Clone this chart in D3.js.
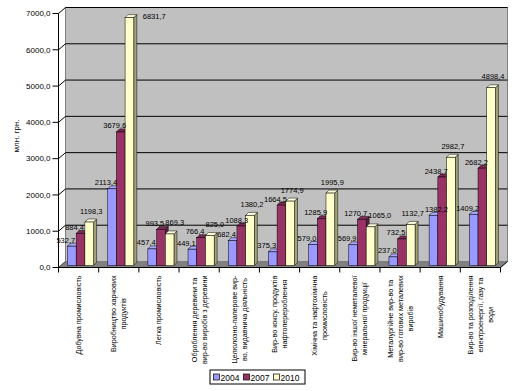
<!DOCTYPE html>
<html><head><meta charset="utf-8">
<script src="https://cdn.jsdelivr.net/npm/d3@7"></script>
<style>
body{margin:0;background:#fff}
svg{display:block}
text{font-family:"Liberation Sans",Arial,sans-serif;fill:#000}
</style>
</head><body>
<svg id="c" width="525" height="391"></svg>
<script>
const categories = [
  "Добувна промисловість",
  "Виробництво харчових\nпродуктів",
  "Легка промисловість",
  "Оброблення деревини та\nвир-во виробів з деревини",
  "Целюлозно-паперове вир-\nво, видавнича діяльність",
  "Вир-во коксу, продуктів\nнафтоперероблення",
  "Хімічна та нафтохімічна\nпромисловість",
  "Вир-во іншої неметалевої\nмінеральної продукції",
  "Металургійне вир-во та\nвир-во готових металевих\nвиробів",
  "Машинобудування",
  "Вир-во та розподілення\nелектроенергії, газу та\nводи"
];
const seriesNames = ["2004", "2007", "2010"];
const values2004 = [532.7, 2113.4, 457.4, 449.1, 682.4, 375.3, 579.0, 569.9, 237.0, 1382.2, 1409.2];
const values2007 = [884.4, 3679.6, 993.5, 766.4, 1088.3, 1664.5, 1285.9, 1270.7, 732.5, 2438.7, 2682.2];
const values2010 = [1198.3, 6831.7, 869.3, 825.0, 1380.2, 1774.9, 1995.9, 1065.0, 1132.7, 2982.7, 4898.4];
const yTickValues = [0, 1000, 2000, 3000, 4000, 5000, 6000, 7000];
const yTitle = "млн. грн.";

const seriesValues = [values2004, values2007, values2010];
const frontColors = ["#9999FF", "#993366", "#FFFFCC"];
const topColors = ["#A8A8FF", "#7F2A55", "#FFFFDD"];
const sideColors = ["#6E6EC0", "#5E1F3F", "#A3A37A"];
const labelShiftX = [-6, -6, 2];
const labelShiftY = [-3.5, -3.5, -8.5];

const fmt = v => d3.format(".1f")(v).replace(".", ",");
const svg = d3.select("#c");

const X0 = 58.5, X1 = 500.5, DX = 7, DY = 6, BD = 3, BY = 2;
const y = d3.scaleLinear().domain([0, 7000]).range([267.5, 13.5]);
const x = d3.scaleBand().domain(d3.range(categories.length)).range([X0, X1]);
const xs = d3.scaleBand().domain(seriesNames).range([9, 35.1]);
const y0 = y(0), yTop = y(7000);

// back wall
svg.append("rect").attr("x", X0 + DX).attr("y", yTop - DY)
  .attr("width", X1 - X0).attr("height", y0 - yTop)
  .attr("fill", "#C0C0C0").attr("stroke", "#808080").attr("stroke-width", 1);

// floor
svg.append("polygon")
  .attr("points", [[X0, y0], [X1, y0], [X1 + DX, y0 - DY], [X0 + DX, y0 - DY]].map(p => p.join(",")).join(" "))
  .attr("fill", "#808080").attr("stroke", "#808080").attr("stroke-width", 0.5);

// gridlines on wall + side diagonals
const grid = svg.append("g");
yTickValues.forEach(t => {
  if (t > 0) {
    grid.append("line").attr("x1", X0 + DX).attr("x2", X1 + DX)
      .attr("y1", y(t) - DY).attr("y2", y(t) - DY).attr("stroke", "#000").attr("stroke-width", 1);
  }
  grid.append("line").attr("x1", X0).attr("y1", y(t)).attr("x2", X0 + DX).attr("y2", y(t) - DY)
    .attr("stroke", t > 0 ? "#000" : "#404040").attr("stroke-width", 1);
});
svg.append("line").attr("x1", X1).attr("y1", y0).attr("x2", X1 + DX).attr("y2", y0 - DY)
  .attr("stroke", "#000").attr("stroke-width", 1);

// bars
const bars = svg.append("g");
const pts = a => a.map(p => p.join(",")).join(" ");
categories.forEach((c, i) => {
  seriesNames.forEach((s, k) => {
    const v = seriesValues[k][i];
    const xf = x(i) + xs(s), w = xs.bandwidth();
    const top = y(v) - BY, bot = y0 - BY;
    bars.append("polygon")
      .attr("points", pts([[xf + w, top], [xf + w + BD, top - BD], [xf + w + BD, bot - BD], [xf + w, bot]]))
      .attr("fill", sideColors[k]).attr("stroke", "#000").attr("stroke-width", 0.5);
    bars.append("polygon")
      .attr("points", pts([[xf, top], [xf + w, top], [xf + w + BD, top - BD], [xf + BD, top - BD]]))
      .attr("fill", topColors[k]).attr("stroke", "#000").attr("stroke-width", 0.5);
    bars.append("rect").attr("x", xf).attr("y", top).attr("width", w).attr("height", bot - top)
      .attr("fill", frontColors[k]).attr("stroke", "#000").attr("stroke-width", 0.5);
  });
});

// y axis
const ax = svg.append("g");
ax.append("line").attr("x1", X0).attr("x2", X0).attr("y1", yTop).attr("y2", y0).attr("stroke", "#000");
yTickValues.forEach(t => {
  ax.append("line").attr("x1", X0 - 6).attr("x2", X0).attr("y1", y(t)).attr("y2", y(t)).attr("stroke", "#000");
  ax.append("text").attr("x", X0 - 8).attr("y", y(t)).attr("dy", "0.35em")
    .attr("text-anchor", "end").attr("font-size", "8px").text(fmt(t));
});
svg.append("text").attr("transform", "translate(19,136) rotate(-90)")
  .attr("text-anchor", "middle").attr("font-size", "8px").text(yTitle);

// x axis
ax.append("line").attr("x1", X0).attr("x2", X1).attr("y1", y0).attr("y2", y0).attr("stroke", "#000");
d3.range(categories.length + 1).forEach(i => {
  const xx = i < categories.length ? x(i) : X1;
  ax.append("line").attr("x1", xx).attr("x2", xx).attr("y1", y0).attr("y2", y0 + 5).attr("stroke", "#000");
});

// category labels
const LINE = 10, LTOP = 275.5;
categories.forEach((c, i) => {
  const lines = c.split("\n");
  const cx = x(i) + x.bandwidth() / 2;
  const g = svg.append("g");
  const ts = lines.map(l => g.append("text").attr("font-size", "7.2px").attr("text-anchor", "middle").text(l));
  const maxL = d3.max(ts, t => t.node().getComputedTextLength());
  ts.forEach((t, j) => {
    const lx = cx + (j - (lines.length - 1) / 2) * LINE;
    t.attr("transform", `translate(${lx + 2.5},${LTOP + maxL / 2}) rotate(-90)`);
  });
});

// value labels with simple collision avoidance (shift right)
const lab = svg.append("g");
const placed = [];
const hit = (a, b) => a.x < b.x + b.width && b.x < a.x + a.width && a.y < b.y + b.height && b.y < a.y + a.height;
categories.forEach((c, i) => {
  seriesNames.forEach((s, k) => {
    const v = seriesValues[k][i];
    const xf = x(i) + xs(s), w = xs.bandwidth();
    const top = y(v) - BY;
    let tx = xf + w / 2 + labelShiftX[k], ty = top + labelShiftY[k], anchor = "middle";
    if (ty - 7 < yTop - DY) { tx = xf + w + 9; ty = top + 1; anchor = "start"; }
    const t = lab.append("text").attr("x", tx).attr("y", ty).attr("text-anchor", anchor)
      .attr("font-size", "7.5px").text(fmt(v));
    let bb = t.node().getBBox();
    for (let it = 0; it < 5; it++) {
      const o = placed.find(p => hit(p, bb));
      if (!o) break;
      tx += (o.x + o.width) - bb.x + 1;
      t.attr("x", tx);
      bb = t.node().getBBox();
    }
    placed.push(bb);
  });
});

// legend
const lg = svg.append("g").attr("transform", "translate(210,370)");
lg.append("rect").attr("width", 95).attr("height", 14).attr("fill", "#fff").attr("stroke", "#000");
seriesNames.forEach((s, k) => {
  lg.append("rect").attr("x", 3.5 + k * 30).attr("y", 4).attr("width", 6).attr("height", 6)
    .attr("fill", frontColors[k]).attr("stroke", "#000").attr("stroke-width", 0.7);
  lg.append("text").attr("x", 10.5 + k * 30).attr("y", 10.8).attr("font-size", "8.5px").text(s);
});
</script>
</body></html>
